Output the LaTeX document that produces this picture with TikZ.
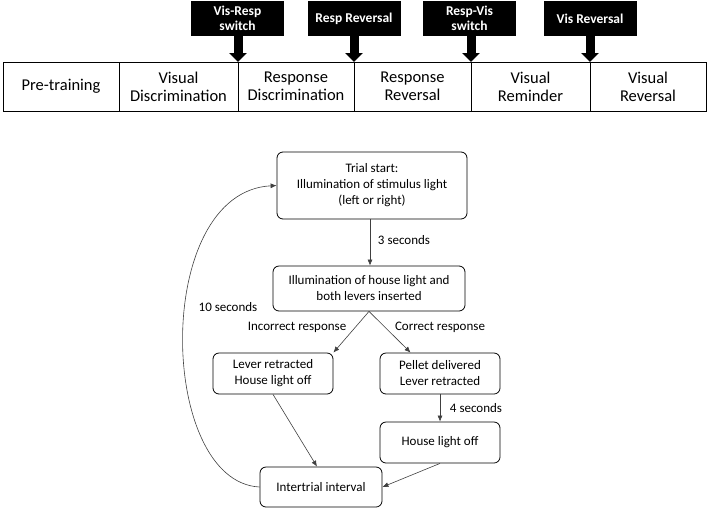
\documentclass[tikz,border=0pt]{standalone}
\usepackage{fontspec}
\setmainfont{Carlito}
\usetikzlibrary{arrows.meta,calc}
\tikzset{
  cell/.style={draw, line width=1pt, minimum height=49pt, inner sep=0pt, outer sep=0pt, align=center, font=\fontsize{16.5}{18}\selectfont, anchor=west},
  tag/.style={fill=black, text=white, minimum width=93pt, minimum height=35pt, inner sep=0pt, align=center, font=\bfseries\fontsize{13.5}{15.5}\selectfont},
  bigarrow/.style={line width=9pt, -{Triangle[width=17pt,length=9pt]}},
  box/.style={draw, rounded corners=6pt, line width=0.8pt, inner sep=0pt, align=center, font=\fontsize{13}{16}\selectfont},
  conn/.style={draw=black!75, line width=0.6pt, -{Latex[length=6pt,width=5pt]}},
  lbl/.style={font=\fontsize{13}{16}\selectfont, inner sep=0pt}
}
\begin{document}
\begin{tikzpicture}[x=1pt,y=-1pt]
\useasboundingbox (0,0) rectangle (708,509);
% timeline
\node[cell, minimum width=116pt] (pt) at (3,86.5) {Pre-training};
\node[cell, minimum width=119pt] (vd) at (119,86.5) {Visual\\Discrimination};
\node[cell, minimum width=116pt] (rd) at (238,86.5) {Response\\Discrimination};
\node[cell, minimum width=117pt] (rr) at (354,86.5) {Response\\Reversal};
\node[cell, minimum width=119pt] (vr) at (471,86.5) {Visual\\Reminder};
\node[cell, minimum width=116pt] (vv) at (590,86.5) {Visual\\Reversal};
% tags
\node[tag] (t1) at (237.5,18.5) {Vis-Resp\\switch};
\node[tag] (t2) at (354,18.5) {Resp Reversal};
\node[tag] (t3) at (469.5,18.5) {Resp-Vis\\switch};
\node[tag] (t4) at (590,18.5) {Vis Reversal};
\draw[bigarrow] (t1.south -| vd.north east) -- (vd.north east);
\draw[bigarrow] (t2.south -| rd.north east) -- (rd.north east);
\draw[bigarrow] (t3.south -| rr.north east) -- (rr.north east);
\draw[bigarrow] (t4.south -| vr.north east) -- (vr.north east);
% flowchart
\node[box, minimum width=190pt, minimum height=67pt] (start) at (372,185.5) {Trial start:\\Illumination of stimulus light\\(left or right)};
\node[box, minimum width=192pt, minimum height=45pt] (illum) at (369,288.5) {Illumination of house light and\\both levers inserted};
\node[box, minimum width=120pt, minimum height=41pt] (lever) at (273,373.5) {Lever retracted\\House light off};
\node[box, minimum width=120pt, minimum height=41pt] (pellet) at (440,373.5) {Pellet delivered\\Lever retracted};
\node[box, minimum width=120pt, minimum height=41pt] (hlo) at (440,442.5) {House light off};
\node[box, minimum width=122pt, minimum height=40pt] (iti) at (321,487) {Intertrial interval};
\draw[conn] (start.south -| 370,0) -- (illum.north -| 370,0);
\draw[conn] (illum.south) -- (lever.north east);
\draw[conn] (illum.south) -- ($(pellet.north west)+(31,0)$);
\draw[conn] (pellet.south) -- (hlo.north);
\draw[conn] (lever.south) -- ($(iti.north)+(-4,0)$);
\draw[conn] (hlo.south) -- (iti.east);
\draw[conn] (iti.west) .. controls (158,482) and (152,192) .. (start.west);
\node[lbl] (l3) at (404,240) {3 seconds};
\node[lbl] (l10) at (228,307) {10 seconds};
\node[lbl] (linc) at (297,327) {Incorrect response};
\node[lbl] (lcor) at (440,327) {Correct response};
\node[lbl] (l4) at (476,408) {4 seconds};
\end{tikzpicture}
\end{document}
